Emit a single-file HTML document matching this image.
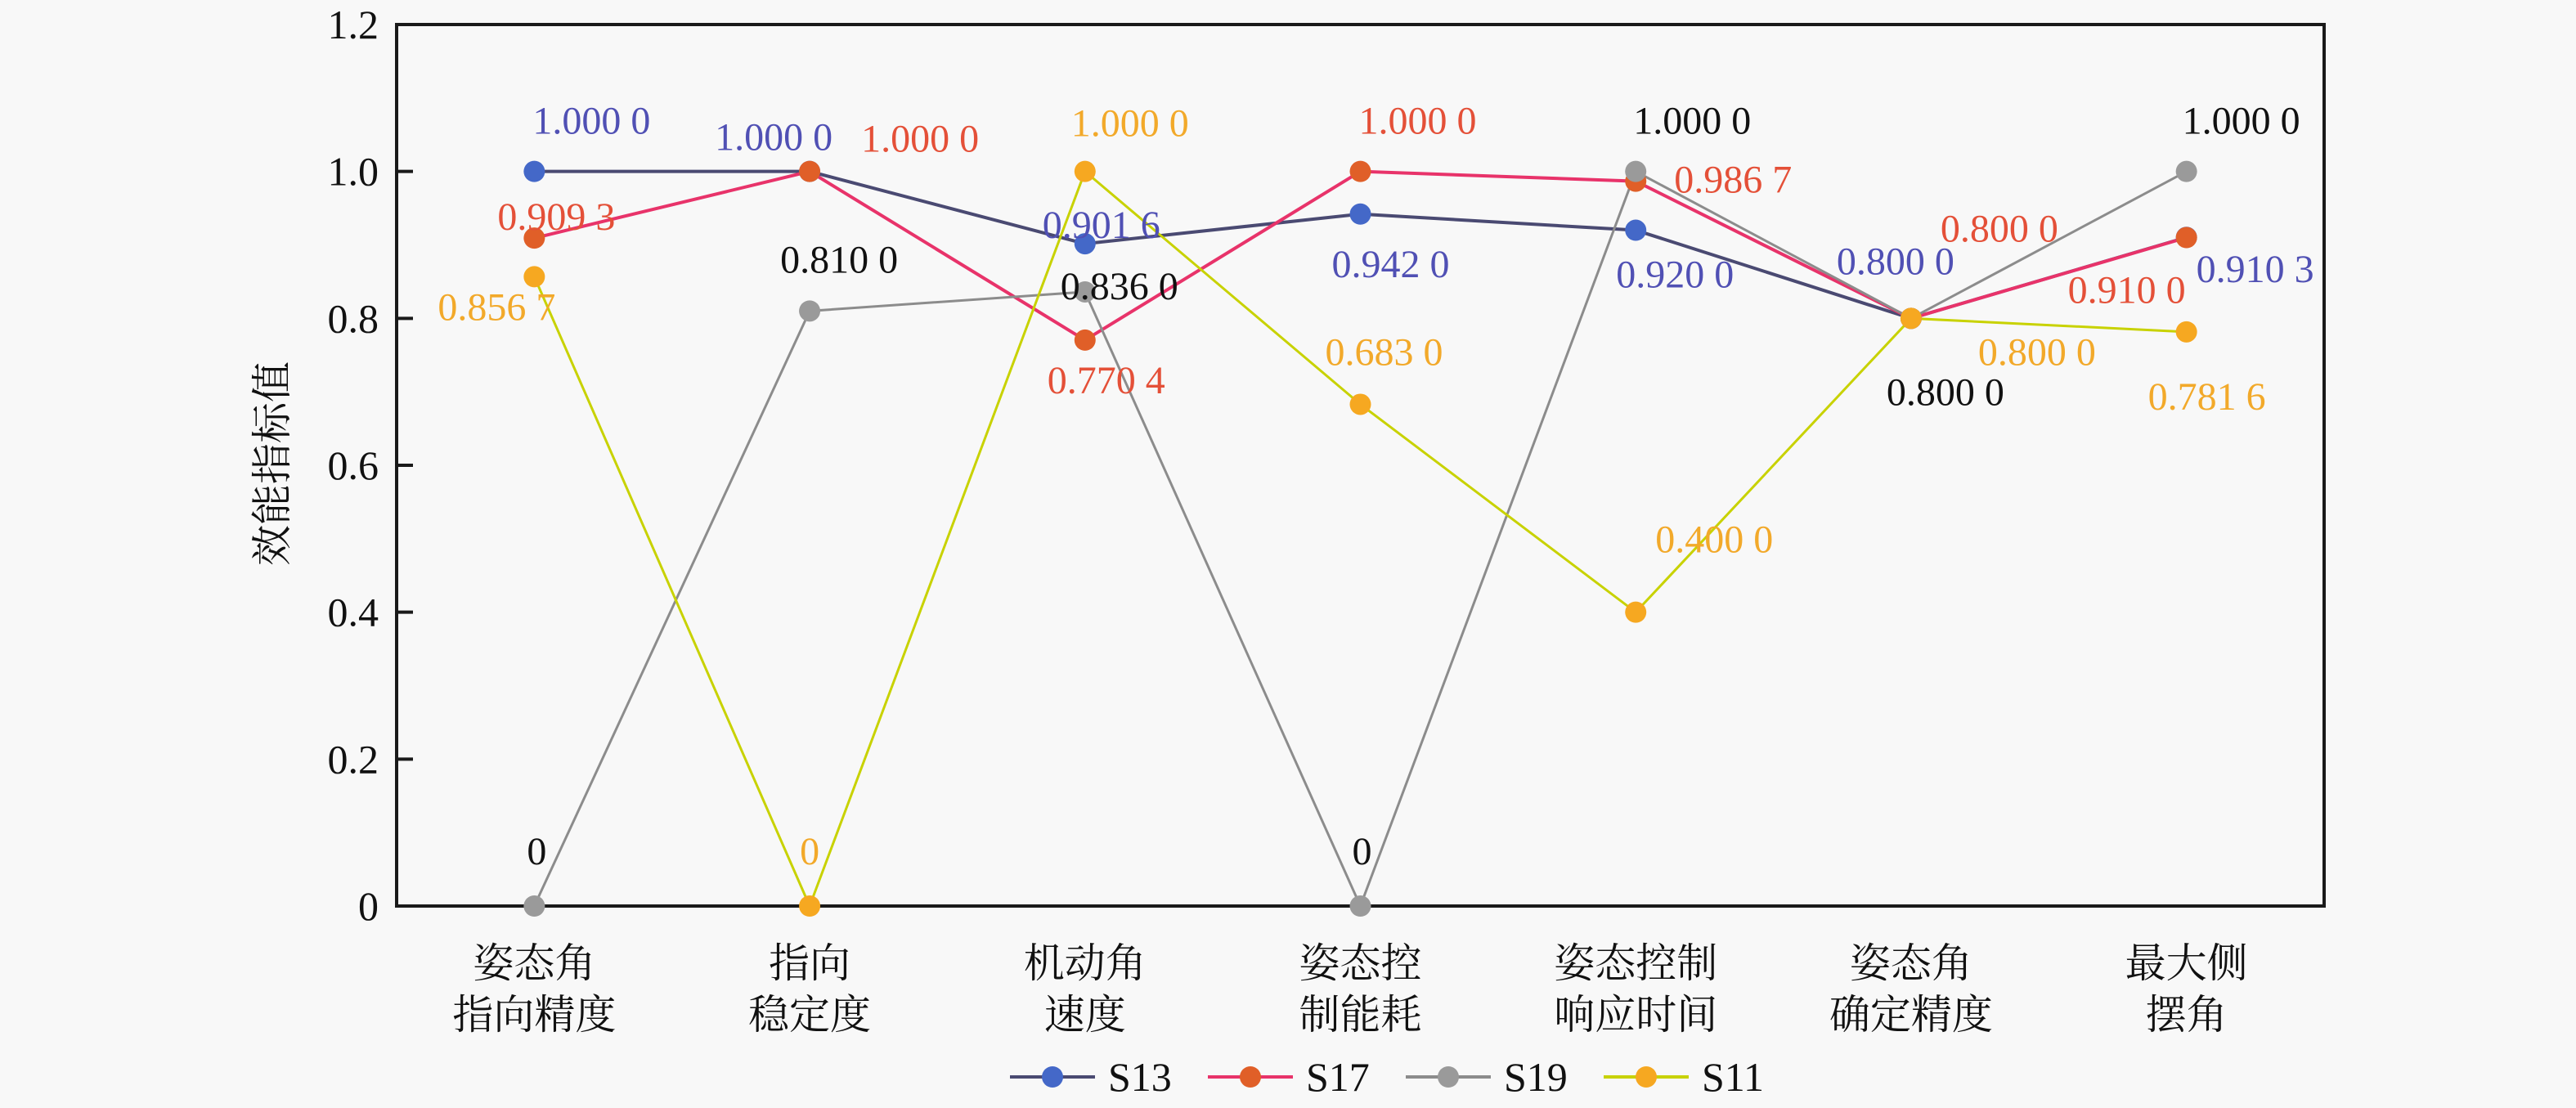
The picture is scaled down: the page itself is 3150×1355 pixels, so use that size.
<!DOCTYPE html>
<html><head><meta charset="utf-8">
<style>
html,body{margin:0;padding:0;background:#f8f8f8;}
svg text{font-family:"Liberation Serif","Noto Serif CJK SC","Noto Sans CJK SC",serif;}
</style></head>
<body>
<svg id="chart" width="3150" height="1350" viewBox="0 0 3150 1350" xmlns="http://www.w3.org/2000/svg">
<rect x="0" y="0" width="3150" height="1350" fill="#f8f8f8"/>
<g id="plot"></g>
</svg>
<script>
const categories = [["姿态角","指向精度"],["指向","稳定度"],["机动角","速度"],["姿态控","制能耗"],["姿态控制","响应时间"],["姿态角","确定精度"],["最大侧","摆角"]];
const seriesNames = ["S13","S17","S19","S11"];
const s13 = [1.0,1.0,0.9016,0.942,0.92,0.8,0.9103];
const s17 = [0.9093,1.0,0.7704,1.0,0.9867,0.8,0.91];
const s19 = [0,0.81,0.836,0,1.0,0.8,1.0];
const s11 = [0.8567,0,1.0,0.683,0.4,0.8,0.7816];
const labels13 = ["1.000 0","1.000 0","0.901 6","0.942 0","0.920 0","0.800 0","0.910 3"];
const labels17 = ["0.909 3","1.000 0","0.770 4","1.000 0","0.986 7","0.800 0","0.910 0"];
const labels19 = ["0","0.810 0","0.836 0","0","1.000 0","0.800 0","1.000 0"];
const labels11 = ["0.856 7","0","1.000 0","0.683 0","0.400 0","0.800 0","0.781 6"];
const yTicks = [0,0.2,0.4,0.6,0.8,1.0,1.2];
const yTickLabels = ["0","0.2","0.4","0.6","0.8","1.0","1.2"];

const NS="http://www.w3.org/2000/svg";
const g=document.getElementById('plot');
const L=485,R=2842,T=30,B=1108,yMax=1.2;
const step=(R-L)/categories.length;
function xPos(i){return L+(i+0.5)*step;}
function yPos(v){return B-(v/yMax)*(B-T);}
function mk(tag,attrs,parent){const e=document.createElementNS(NS,tag);for(const k in attrs)e.setAttribute(k,attrs[k]);(parent||g).appendChild(e);return e;}

// label offsets (layout, not data)
const off=[
 [[70,-63],[-44,-43],[20,-24],[37,60],[48,53],[-19,-71],[84,38]],
 [[27,-27],[135,-41],[26,48],[70,-63],[119,-3],[108,-111],[-73,63]],
 [[3,-68],[36,-64],[42,-8],[2,-68],[69,-63],[42,89],[67,-63]],
 [[-46,36],[0,-68],[55,-60],[29,-65],[96,-90],[154,40],[25,78]]
];
const lineCol=["#4a4a72","#e8336a","#8c8c8c","#c8d200"];
const markCol=["#4468c8","#e05f28","#9a9a9a","#f6a821"];
const labCol=["#5050b4","#e45038","#111111","#f2a92a"];
const data=[s13,s17,s19,s11];
const labs=[labels13,labels17,labels19,labels11];

// frame
const frame=mk('rect',{x:L,y:T,width:R-L,height:B-T,fill:'none',stroke:'#1a1a1a','stroke-width':4});


yTicks.forEach((t,i)=>{
  const y=yPos(t);
  const tk=mk('line',{x1:L,x2:L+20,y1:y,y2:y,stroke:'#1a1a1a','stroke-width':4});
  
  
  const tl=mk('text',{x:463,y:y+17,'text-anchor':'end','font-size':50,fill:'#111'});
  tl.textContent=yTickLabels[i];
  
  
});
const yt=mk('text',{x:0,y:0,'text-anchor':'middle','font-size':50,fill:'#111',transform:'translate(350,567) rotate(-90)'});
yt.textContent='效能指标值';



categories.forEach((c,i)=>{
  c.forEach((ln,j)=>{
    const t=mk('text',{x:xPos(i),y:1195+j*63,'text-anchor':'middle','font-size':50,fill:'#111'});
    t.textContent=ln;
    
    
  });
});

data.forEach((s,k)=>{
  const pts=s.map((v,i)=>xPos(i)+','+yPos(v)).join(' ');
  const pl=mk('polyline',{points:pts,fill:'none',stroke:lineCol[k],'stroke-width':k<2?4:3});
  
  
});
data.forEach((s,k)=>{
  s.forEach((v,i)=>{
    const c=mk('circle',{cx:xPos(i),cy:yPos(v),r:13,fill:markCol[k]});
    
    
  });
});
data.forEach((s,k)=>{
  s.forEach((v,i)=>{
    const t=mk('text',{x:xPos(i)+off[k][i][0],y:yPos(v)+off[k][i][1]+17,'text-anchor':'middle','font-size':48,fill:labCol[k]});
    t.textContent=labs[k][i];
    
    
  });
});

// legend
seriesNames.forEach((n,k)=>{
  const cx=1287+k*242;
  const lg=mk('g',{});
  
  
  mk('line',{x1:cx-52,x2:cx+52,y1:1317,y2:1317,stroke:lineCol[k],'stroke-width':4},lg);
  mk('circle',{cx:cx,cy:1317,r:13,fill:markCol[k]},lg);
  const t=mk('text',{x:cx+68,y:1334,'font-size':50,fill:'#111'},lg);
  t.textContent=n;
});
</script>
</body></html>
